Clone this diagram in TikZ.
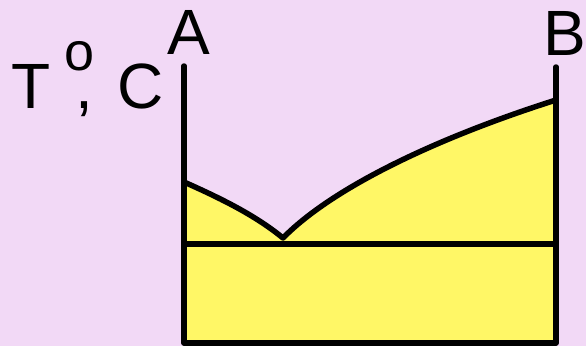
\documentclass[tikz,border=0pt]{standalone}
\usepackage{fontspec}
\setmainfont{Liberation Sans}
\definecolor{bgpink}{HTML}{F2D9F6}
\definecolor{fillyel}{HTML}{FFF766}
\begin{document}
\begin{tikzpicture}[x=1pt,y=-1pt,
  ln/.style={line width=5.5pt,line cap=round,line join=round},
  lbl/.style={font=\fontsize{64}{64}\selectfont,inner sep=0pt,anchor=base}]
\fill[bgpink] (0,0) rectangle (586,346);
\useasboundingbox (0,0) rectangle (586,346);
% filled region
\fill[fillyel] (184,182) .. controls (220,198) and (255,215) .. (283,238)
  .. controls (330,190) and (430,140) .. (556,100) -- (556,343) -- (184,343) -- cycle;
% liquidus
\draw[ln] (184,182) .. controls (220,198) and (255,215) .. (283,238)
  .. controls (330,190) and (430,140) .. (556,100);
% eutectic line
\draw[ln] (184,244) -- (556,244);
% axes
\draw[ln] (184,66) -- (184,343) -- (556,343) -- (556,67);
% labels
\node[lbl] (A) at (189,54) {A};
\node[lbl] (B) at (565,55) {B};
\node[lbl,anchor=base west] (T) at (11,108)
  {T\kern14pt\raisebox{38pt}{\fontsize{54}{54}\selectfont o}\kern-19pt,};
\node[lbl,anchor=base west] (C) at (117,108) {C};
\end{tikzpicture}
\end{document}
